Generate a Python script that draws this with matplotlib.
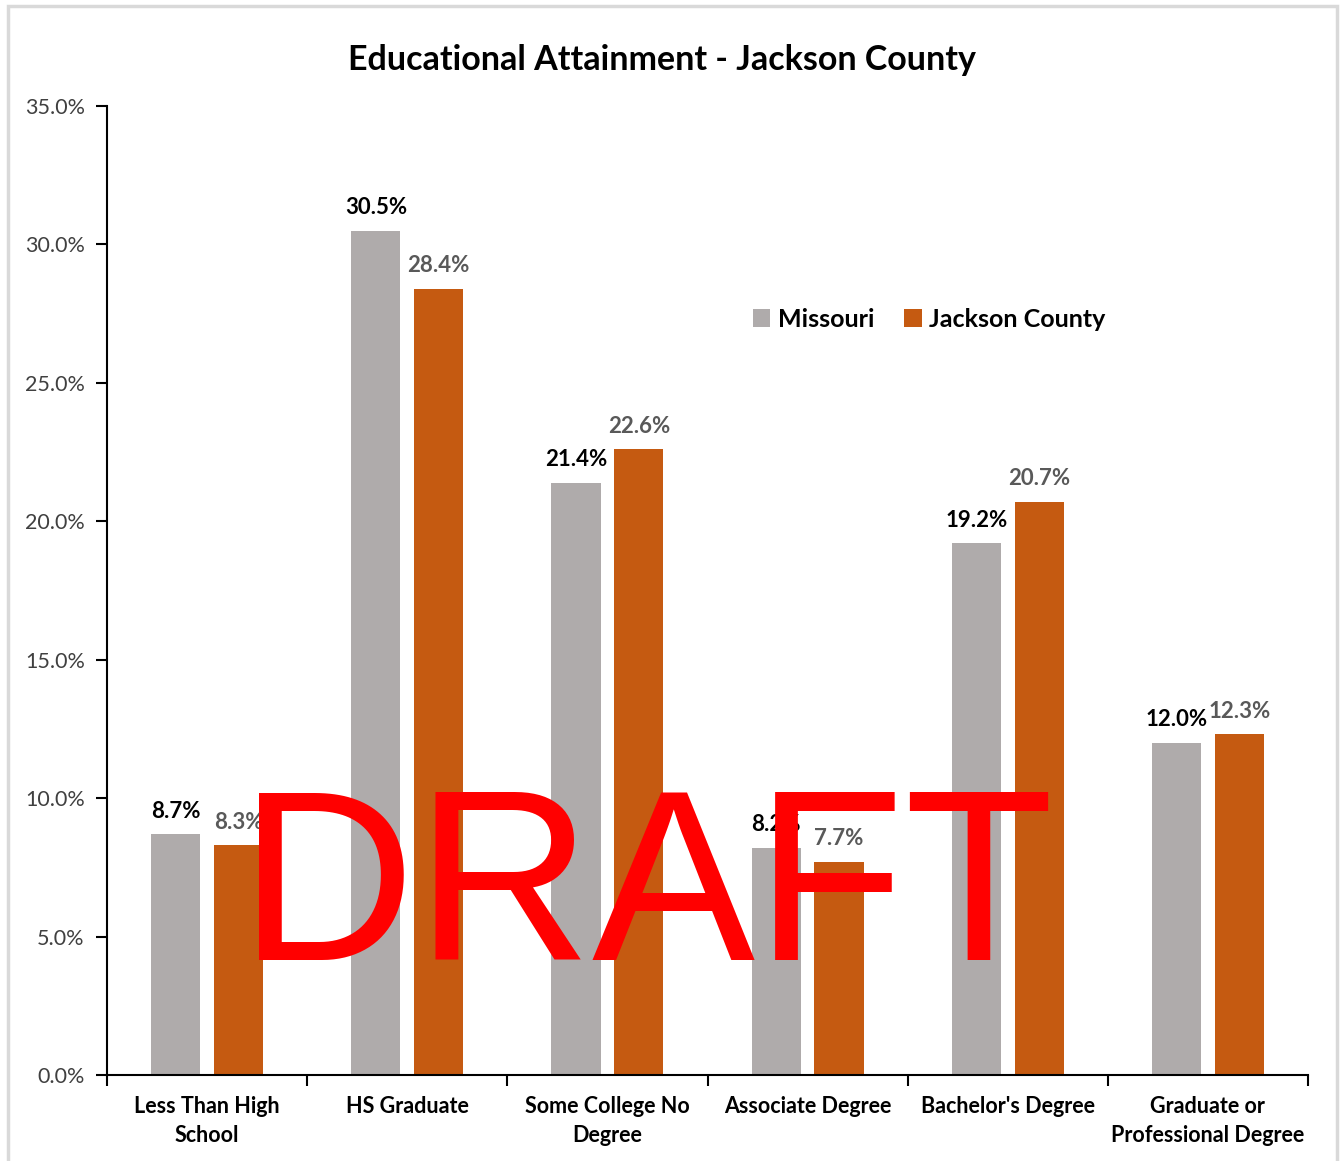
import matplotlib
matplotlib.use("Agg")
import matplotlib.pyplot as plt
from matplotlib.patches import Rectangle
from matplotlib.ticker import FuncFormatter, MultipleLocator
import numpy as np

categories = ["Less Than High\nSchool", "HS Graduate", "Some College No\nDegree",
              "Associate Degree", "Bachelor's Degree", "Graduate or\nProfessional Degree"]
missouri = [8.7, 30.5, 21.4, 8.2, 19.2, 12.0]
jackson = [8.3, 28.4, 22.6, 7.7, 20.7, 12.3]
series_names = ["Missouri", "Jackson County"]

GREY = "#AFABAB"
ORANGE = "#C55A11"
FONT = ["Lato", "DejaVu Sans"]

plt.rcParams["font.family"] = FONT

W, H, DPI = 1340, 1161, 100
fig = plt.figure(figsize=(W / DPI, H / DPI), dpi=DPI)
fig.patch.set_facecolor("white")

# light frame around the chart area
fig.add_artist(Rectangle((8 / W, -0.01), (1337 - 8) / W, 1 - 6 / H + 0.01,
                         transform=fig.transFigure, fill=False,
                         edgecolor="#D9D9D9", linewidth=2.5))

ax = fig.add_axes([107 / W, 1 - 1075 / H, (1308 - 107) / W, (1075 - 106) / H])

x = np.arange(len(categories))
bw = 0.245
off = 0.157
b1 = ax.bar(x - off, missouri, bw, color=GREY, label=series_names[0])
b2 = ax.bar(x + off, jackson, bw, color=ORANGE, label=series_names[1])

for rect, v in zip(b1, missouri):
    ax.annotate(f"{v:.1f}%", (rect.get_x() + rect.get_width() / 2, v),
                xytext=(0, 9), textcoords="offset points", ha="center", va="bottom",
                fontsize=16, fontweight="bold", color="black")
for rect, v in zip(b2, jackson):
    ax.annotate(f"{v:.1f}%", (rect.get_x() + rect.get_width() / 2, v),
                xytext=(0, 9), textcoords="offset points", ha="center", va="bottom",
                fontsize=16, fontweight="bold", color="#595959")

ax.set_xlim(-0.5, len(categories) - 0.5)
ax.set_ylim(0, 35)
ax.yaxis.set_major_locator(MultipleLocator(5))
ax.yaxis.set_major_formatter(FuncFormatter(lambda v, p: f"{v:.1f}%"))
ax.tick_params(axis="y", direction="out", length=8, width=1.5, labelsize=15.5,
               labelcolor="#404040", pad=8)

ax.set_xticks(np.arange(len(categories) + 1) - 0.5, minor=False)
ax.set_xticklabels([""] * (len(categories) + 1))
ax.set_xticks(x, minor=True)
ax.set_xticklabels(categories, minor=True, fontsize=15.5, fontweight="bold")
ax.tick_params(axis="x", which="major", direction="out", length=8, width=1.5)
ax.tick_params(axis="x", which="minor", length=0, pad=15)
for t in ax.get_xticklabels(minor=True):
    t.set_linespacing(1.5)

for s in ["top", "right"]:
    ax.spines[s].set_visible(False)
ax.spines["left"].set_linewidth(1.5)
ax.spines["bottom"].set_linewidth(1.5)

fig.text(662 / W, 1 - 60 / H, "Educational Attainment - Jackson County",
         fontsize=24.5, fontweight="bold", ha="center", va="center")

leg = ax.legend(loc="center", bbox_to_anchor=(929 / W, 1 - 319 / H),
                bbox_transform=fig.transFigure, ncol=2, frameon=False,
                prop={"family": FONT, "weight": "bold", "size": 18},
                handlelength=0.7, handleheight=0.7, handletextpad=0.3,
                columnspacing=1.2)

fig.text(646 / W, 1 - 898 / H, "DRAFT", color="#FF0000", fontsize=176,
         family=["Liberation Sans", "DejaVu Sans"], ha="center", va="center")

fig.savefig("out.png", dpi=DPI)
